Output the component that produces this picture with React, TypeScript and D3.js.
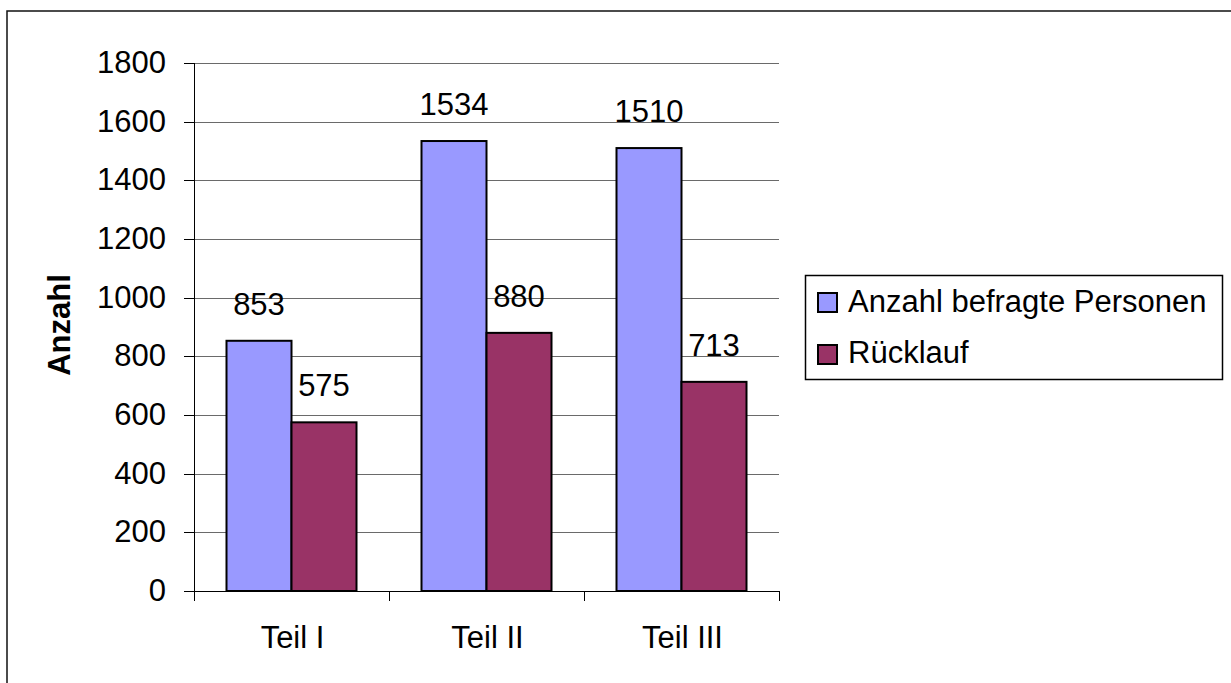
import React from "react";
import * as d3 from "d3";

const categories = ["Teil I", "Teil II", "Teil III"];
const seriesNames = ["Anzahl befragte Personen", "Rücklauf"];
const befragte = [853, 1534, 1510];
const ruecklauf = [575, 880, 713];
const yTicks = [0, 200, 400, 600, 800, 1000, 1200, 1400, 1600, 1800];
const colors = ["#9999FF", "#993366"];
const yTitle = "Anzahl";

const FONT = "'Liberation Sans', Arial, Helvetica, sans-serif";

export default function App() {
  const W = 1231, H = 683;
  const left = 194, right = 779, top = 63, bottom = 591;
  const x = d3.scaleBand<string>().domain(categories).range([left, right]).padding(0);
  const bw = x.bandwidth();
  const xs = d3.scaleBand<string>().domain(seriesNames).range([bw / 6, (bw * 5) / 6]).padding(0);
  const y = d3.scaleLinear().domain([0, 1800]).range([bottom, top]);
  const series = [befragte, ruecklauf];
  const boundaries = [...categories.map((c) => x(c) as number), right];

  return (
    <svg width={W} height={H} style={{ position: "absolute", left: 0, top: 0, background: "#fff" }} fontFamily={FONT}>
      <rect x={0} y={0} width={W} height={H} fill="#fff" />
      <rect x={7} y={11} width={W + 20} height={H + 20} fill="none" stroke="#111" strokeWidth={1.5} />
      {/* gridlines */}
      {yTicks.filter((t) => t > 0).map((t) => (
        <line key={"g" + t} x1={left} x2={right} y1={Math.round(y(t)) + 0.5} y2={Math.round(y(t)) + 0.5} stroke="#6a6a6a" strokeWidth={1} />
      ))}
      {/* bars */}
      {categories.map((c, i) =>
        seriesNames.map((s, j) => {
          const v = series[j][i];
          const bx = (x(c) as number) + (xs(s) as number);
          return (
            <rect key={c + s} x={bx} y={y(v)} width={xs.bandwidth()} height={bottom - y(v)} fill={colors[j]} stroke="#000" strokeWidth={2} />
          );
        })
      )}
      {/* data labels */}
      {categories.map((c, i) =>
        seriesNames.map((s, j) => {
          const v = series[j][i];
          const cx = (x(c) as number) + (xs(s) as number) + xs.bandwidth() / 2;
          return (
            <text key={"l" + c + s} x={cx} y={y(v) - 26} textAnchor="middle" fontSize={31} fill="#000">
              {v}
            </text>
          );
        })
      )}
      {/* y axis */}
      <line x1={left + 0.5} x2={left + 0.5} y1={top} y2={bottom} stroke="#000" strokeWidth={1} />
      {yTicks.map((t) => (
        <g key={"t" + t}>
          <line x1={left - 10} x2={left} y1={Math.round(y(t)) + 0.5} y2={Math.round(y(t)) + 0.5} stroke="#000" strokeWidth={1} />
          <text x={166} y={y(t) + 10} textAnchor="end" fontSize={31} fill="#000">
            {t}
          </text>
        </g>
      ))}
      {/* x axis */}
      <line x1={left} x2={right} y1={bottom + 0.5} y2={bottom + 0.5} stroke="#000" strokeWidth={1} />
      {boundaries.map((bx, i) => (
        <line key={"xt" + i} x1={bx + 0.5} x2={bx + 0.5} y1={bottom} y2={bottom + 10} stroke="#000" strokeWidth={1} />
      ))}
      {categories.map((c) => (
        <text key={"xl" + c} x={(x(c) as number) + bw / 2 + 1} y={648} textAnchor="middle" fontSize={31} fill="#000">
          {c}
        </text>
      ))}
      {/* y title */}
      <text transform={`translate(70,${(top + bottom) / 2 - 2}) rotate(-90)`} textAnchor="middle" fontSize={31} fontWeight="bold" fill="#000">
        {yTitle}
      </text>
      {/* legend */}
      <rect x={805.5} y={275.5} width={417} height={104} fill="#fff" stroke="#000" strokeWidth={1.5} />
      {seriesNames.map((s, j) => (
        <g key={"lg" + s}>
          <rect x={818} y={293 + j * 52} width={19} height={19} fill={colors[j]} stroke="#000" strokeWidth={2} />
          <text x={848} y={312 + j * 51} fontSize={31} fill="#000">
            {s}
          </text>
        </g>
      ))}
    </svg>
  );
}
